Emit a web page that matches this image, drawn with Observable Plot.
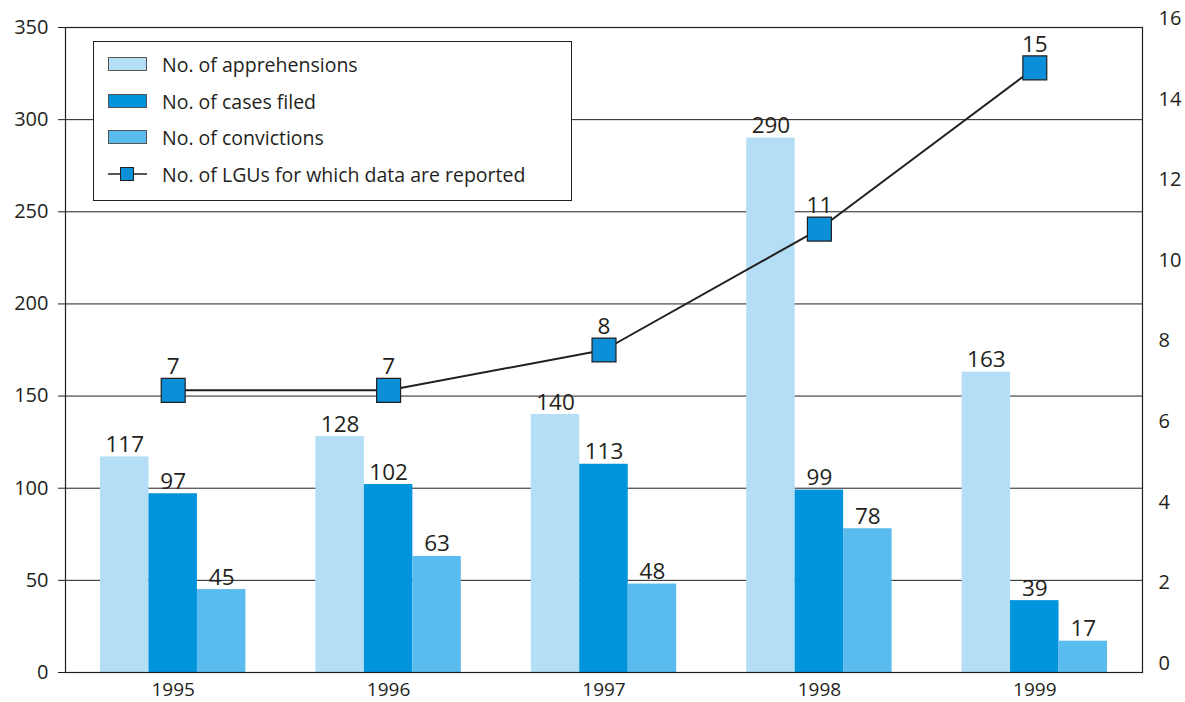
<!DOCTYPE html>
<html>
<head>
<meta charset="utf-8">
<script src="https://cdn.jsdelivr.net/npm/d3@7"></script>
<script src="https://cdn.jsdelivr.net/npm/@observablehq/plot@0.6"></script>
<style>
  body { margin: 0; background: #fff; }
  #wrap { position: relative; width: 1185px; height: 702px; font-family: "Open Sans", sans-serif; color: #231f20; }
  #legend { position: absolute; left: 93px; top: 41px; width: 477px; height: 158px; border: 1px solid #231f20; background: #fff; }
  .item { position: absolute; left: 14px; height: 26px; display: flex; align-items: center; font-size: 19.5px; }
  .item svg { margin-right: 15px; }
</style>
</head>
<body>
<div id="wrap"></div>
<script>
const years = [1995, 1996, 1997, 1998, 1999];
const apprehensions = [117, 128, 140, 290, 163];
const casesFiled = [97, 102, 113, 99, 39];
const convictions = [45, 63, 48, 78, 17];
const lgus = [7, 7, 8, 11, 15];
const seriesNames = ["No. of apprehensions", "No. of cases filed", "No. of convictions"];
const lineName = "No. of LGUs for which data are reported";
const leftTicks = [0, 50, 100, 150, 200, 250, 300, 350];
const rightTicks = [0, 2, 4, 6, 8, 10, 12, 14, 16];

const colors = ["#b3def5", "#0094dc", "#5abbee"];
const ink = "#231f20";
const yMax = 350, rMax = 16;
const groupW = 0.675, barW = groupW / 3;

const seriesVals = [apprehensions, casesFiled, convictions];
const bars = [];
years.forEach((yr, j) => {
  seriesVals.forEach((vals, i) => {
    const x1 = yr - groupW / 2 + i * barW;
    bars.push({year: yr, series: seriesNames[i], value: vals[j], x1, x2: x1 + barW, xm: x1 + barW / 2});
  });
});
const pts = years.map((yr, j) => ({year: yr, v: lgus[j], y: lgus[j] * yMax / rMax}));

const chart = Plot.plot({
  width: 1185,
  height: 702,
  marginLeft: 65,
  marginRight: 43,
  marginTop: 27,
  marginBottom: 30,
  style: {fontFamily: "'Open Sans', sans-serif", color: ink, background: "#fff"},
  x: {domain: [1994.5, 1999.5]},
  y: {domain: [0, yMax]},
  color: {domain: seriesNames, range: colors},
  marks: [
    Plot.ruleY(leftTicks.slice(1, -1), {stroke: ink, strokeWidth: 1}),
    Plot.rectY(bars, {x1: "x1", x2: "x2", y: "value", fill: "series"}),
    Plot.frame({stroke: ink, strokeWidth: 1.2}),
    Plot.axisY({ticks: leftTicks, tickSize: 7, tickPadding: 10, fontSize: 20, stroke: ink, label: null}),
    Plot.axisY({anchor: "right", ticks: rightTicks.map(v => v * yMax / rMax), tickFormat: d => Math.round(d * rMax / yMax), tickSize: 0, tickPadding: 16, fontSize: 20, dy: -9, label: null}),
    Plot.axisX({ticks: years, tickFormat: "d", tickSize: 0, tickPadding: 10, fontSize: 19, label: null}),
    Plot.text(bars, {x: "xm", y: "value", text: d => String(d.value), lineAnchor: "bottom", dy: -5, fontSize: 22.5, fill: ink}),
    Plot.line(pts, {x: "year", y: "y", stroke: ink, strokeWidth: 2}),
    Plot.dot(pts, {x: "year", y: "y", symbol: "square", r: 13.5, fill: "#0a8fd8", stroke: ink, strokeWidth: 1.2}),
    Plot.text(pts, {x: "year", y: "y", text: d => String(d.v), lineAnchor: "bottom", dy: -16, fontSize: 22.5, fill: ink})
  ]
});

const wrap = document.getElementById("wrap");
wrap.appendChild(chart);

const legend = document.createElement("div");
legend.id = "legend";
const rowsTop = [9, 46, 82, 119];
seriesNames.forEach((name, i) => {
  const it = document.createElement("div");
  it.className = "item";
  it.style.top = rowsTop[i] + "px";
  it.innerHTML = `<svg width="39" height="14"><rect x="0.5" y="0.5" width="38" height="13" fill="${colors[i]}" stroke="#555" stroke-width="1"/></svg><span>${name}</span>`;
  legend.appendChild(it);
});
const li = document.createElement("div");
li.className = "item";
li.style.top = rowsTop[3] + "px";
li.innerHTML = `<svg width="39" height="16"><line x1="0" x2="39" y1="8" y2="8" stroke="${ink}" stroke-width="1.5"/><rect x="12.5" y="1.5" width="13" height="13" fill="#0a8fd8" stroke="${ink}" stroke-width="1"/></svg><span>${lineName}</span>`;
legend.appendChild(li);
wrap.appendChild(legend);
</script>
</body>
</html>
